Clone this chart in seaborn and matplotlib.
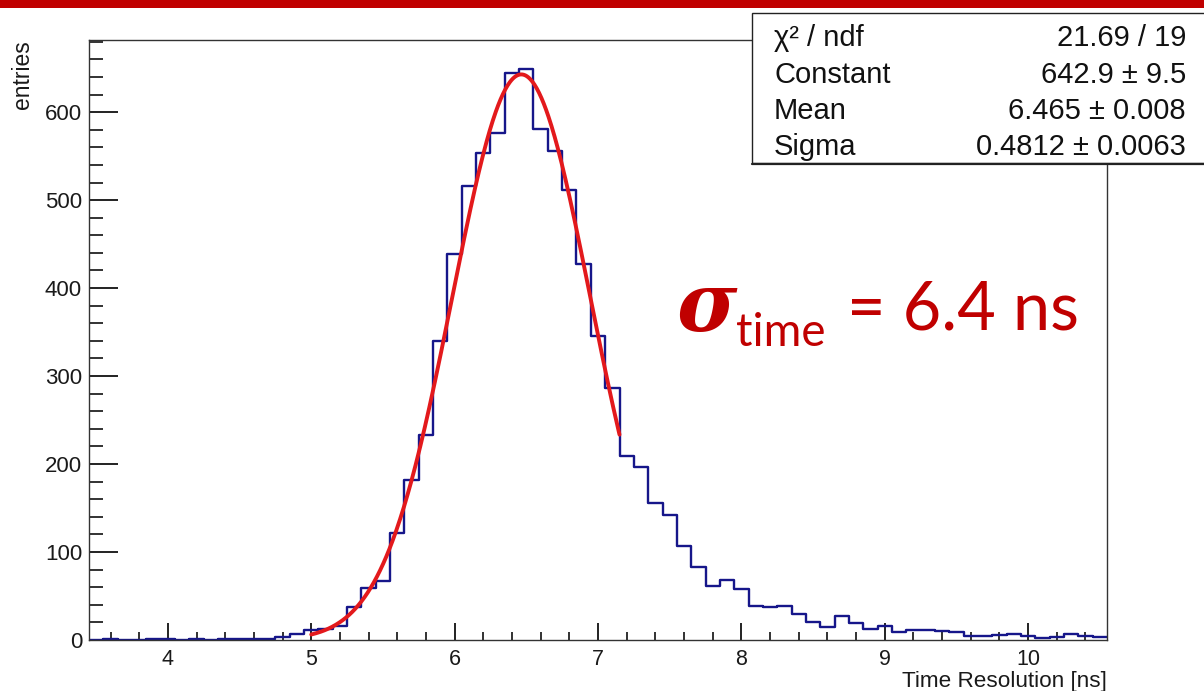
import numpy as np
import pandas as pd
import matplotlib
matplotlib.use("Agg")
import matplotlib.pyplot as plt
import seaborn as sns
from matplotlib.patches import Rectangle
from matplotlib.ticker import MultipleLocator

# ---------------- data ----------------
bin_lo, bin_hi, bin_width = 3.45, 10.55, 0.1
counts = [0, 1, 0, 0, 1, 1, 0, 1, 0, 1,
          1, 1, 1, 3, 7, 11, 13, 16, 37, 59,
          67, 122, 182, 233, 340, 439, 516, 553, 576, 644,
          649, 581, 556, 511, 427, 345, 286, 209, 197, 156,
          142, 107, 83, 61, 68, 58, 39, 37, 39, 29,
          21, 15, 27, 19, 12, 16, 9, 11, 11, 10,
          9, 5, 5, 6, 7, 5, 2, 3, 7, 5, 3]
fit_constant = 642.9
fit_mean = 6.465
fit_sigma = 0.4812
fit_range = [5.0, 7.15]
stat_names = ["χ² / ndf", "Constant", "Mean", "Sigma"]
stat_values = ["21.69 / 19", "642.9 ± 9.5", "6.465 ± 0.008", "0.4812 ± 0.0063"]
x_title = "Time Resolution [ns]"
y_title = "entries"

centers = bin_lo + bin_width * (np.arange(len(counts)) + 0.5)
df = pd.DataFrame({"t": centers, "n": np.asarray(counts, dtype=float)})

fx = np.linspace(fit_range[0], fit_range[1], 400)
fy = fit_constant * np.exp(-0.5 * ((fx - fit_mean) / fit_sigma) ** 2)
fit_df = pd.DataFrame({"t": fx, "f": fy})

# ---------------- style ----------------
sns.set_theme(style="white")
plt.rcParams["font.family"] = ["Liberation Sans", "DejaVu Sans"]
W, H = 1204, 691
fig = plt.figure(figsize=(W / 100, H / 100), dpi=100)
ax = fig.add_axes([89 / W, 1 - 640 / H, (1107 - 89) / W, 600 / H])

sns.histplot(data=df, x="t", weights="n", bins=len(counts), binrange=(bin_lo, bin_hi),
             element="step", fill=False, color="#16168a", linewidth=1.7, ax=ax)
sns.lineplot(data=fit_df, x="t", y="f", color="#e3191c", linewidth=2.8, ax=ax)

ax.set_xlim(bin_lo, bin_hi)
ax.set_ylim(0, 682)
ax.set_xlabel("")
ax.set_ylabel("")
ax.xaxis.set_major_locator(MultipleLocator(1))
ax.xaxis.set_minor_locator(MultipleLocator(0.2))
ax.yaxis.set_major_locator(MultipleLocator(100))
ax.yaxis.set_minor_locator(MultipleLocator(20))
ax.tick_params(axis="y", which="major", direction="in", length=21, width=1.3,
               color="#111111", labelsize=16, pad=5, labelcolor="#1a1a1a",
               left=True, right=False)
ax.tick_params(axis="y", which="minor", direction="in", length=10, width=1.3,
               color="#222222", left=True, right=False)
ax.tick_params(axis="x", which="major", direction="in", length=12, width=1.3,
               color="#111111", labelsize=15.5, pad=6.5, labelcolor="#1a1a1a",
               bottom=True, top=False)
ax.tick_params(axis="x", which="minor", direction="in", length=6, width=1.3,
               color="#222222", bottom=True, top=False)
for s in ax.spines.values():
    s.set_color("#333333")
    s.set_linewidth(1.0)

# axis titles
fig.text(1107 / W, 1 - 687.5 / H, x_title, ha="right", va="baseline",
         fontsize=16.2, color="#1a1a1a")
fig.text(23 / W, 1 - 40 / H, y_title, rotation=90, ha="center", va="top",
         fontsize=16.5, color="#1a1a1a")

# red top bar
fig.add_artist(Rectangle((0, 1 - 7.5 / H), 1, 7.5 / H, transform=fig.transFigure,
                         facecolor="#c00000", edgecolor="none", zorder=10))

# stat box
bx0, by0, by1 = 752, 13, 163
fig.add_artist(Rectangle((bx0 / W, 1 - by1 / H), (W + 10 - bx0) / W, (by1 - by0) / H,
                         transform=fig.transFigure, facecolor="white",
                         edgecolor="#222222", linewidth=1.0, zorder=5, clip_on=False))
fig.add_artist(plt.Line2D([bx0 / W, 1.0], [1 - (by1 + 1) / H, 1 - (by1 + 1) / H],
                          transform=fig.transFigure, color="#222222", linewidth=1.6,
                          zorder=6))
baselines = [46.5, 83, 119, 155]
for name, val, yb in zip(stat_names, stat_values, baselines):
    fig.text(774 / W, 1 - yb / H, name, ha="left", va="baseline", fontsize=21,
             color="#111111", zorder=7)
    fig.text(1186 / W, 1 - yb / H, val, ha="right", va="baseline", fontsize=21,
             color="#111111", zorder=7)

# sigma annotation
red = "#c00000"
fig.text(677 / W, 1 - 331 / H, "σ", ha="left", va="baseline", fontsize=59,
         family="DejaVu Serif", weight="bold", style="italic", color=red)
fig.text(736 / W, 1 - 346 / H, "time", ha="left", va="baseline", fontsize=33,
         family="Lato", color=red)
fig.text(847 / W, 1 - 330 / H, "= 6.4 ns", ha="left", va="baseline", fontsize=48,
         family="Lato", color=red)

fig.savefig("out.png", dpi=100)
